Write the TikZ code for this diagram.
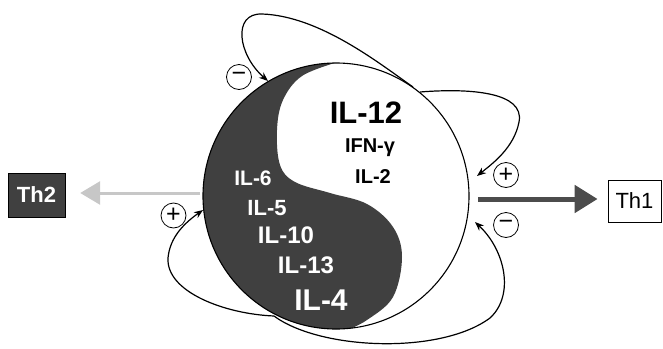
\documentclass[tikz,border=0pt]{standalone}
\usepackage{fontspec}
\setmainfont{Liberation Sans}
\usetikzlibrary{arrows.meta}
\definecolor{darkfill}{gray}{0.25}
\begin{document}
\begin{tikzpicture}[x=1pt,y=-1pt,
  lbl/.style={font=\fontsize{#1}{#1}\selectfont\bfseries, inner sep=0pt, anchor=base},
  wlbl/.style={lbl=#1, text=white},
  sign/.style={circle, draw, line width=0.8pt, minimum size=25pt, inner sep=0pt,
    font=\fontsize{25}{25}\selectfont},
  loopline/.style={line width=1.2pt, -{Stealth[length=9pt,width=7pt]}},
]
\useasboundingbox (0,0) rectangle (663,348);

% yin-yang disc
\begin{scope}
\clip (336,196) circle[radius=133];
\fill[darkfill] plot[smooth,tension=0.6] coordinates {(338,62) (302,76) (283,100) (277,130) (280,165) (295,182) (330,193) (367,204) (393,227) (402,257) (393,297) (367,320) (345,331)} -- (345,400) -- (150,400) -- (150,0) -- (338,0) -- cycle;
\end{scope}
\draw[line width=1.1pt] (336,196) circle[radius=133];

% labels in the white part
\node[lbl=31] (il12) at (366,123) {IL-12};
\node[lbl=20] (ifng) at (370,152) {IFN-γ};
\node[lbl=20] (il2) at (373,183) {IL-2};

% labels in the dark part
\node[wlbl=21] (il6) at (253,185) {IL-6};
\node[wlbl=22] (il5) at (267,215) {IL-5};
\node[wlbl=24] (il10) at (286,243) {IL-10};
\node[wlbl=24] (il13) at (306,273) {IL-13};
\node[wlbl=30] (il4) at (321,310) {IL-4};

% Th boxes
\node[draw=black, fill=darkfill, minimum width=57pt, minimum height=44pt, inner sep=0pt,
  text=white, font=\fontsize{22}{22}\selectfont\bfseries] (th2) at (36.5,195) {Th2};
\node[draw=black, line width=0.8pt, minimum width=53pt, minimum height=42pt, inner sep=0pt,
  font=\fontsize{22}{22}\selectfont] (th1) at (634.5,201) {Th1};

% Th arrows
\coordinate (th1start) at (478,199);
\coordinate (th2start) at (200,193);
\draw[line width=5pt, black!70, shorten >=10pt, -{Triangle[length=23pt,width=27pt]}] (th1start) -- (th1start -| th1.west);
\draw[line width=3pt, black!22, shorten >=15pt, -{Triangle[length=20pt,width=23pt]}] (th2start) -- (th2start -| th2.east);

% signs
\node[sign] (m1) at (239,77) {−};
\node[sign] (p1) at (506,175) {+};
\node[sign] (m2) at (506,225) {−};
\node[sign] (p2) at (173.5,215.5) {+};

% feedback loops
\coordinate (s1) at (413,87);
\coordinate (s1b) at (420,92);
\coordinate (s2) at (274,316);
\coordinate (t1) at (268,81);
\coordinate (t2) at (477,176);
\coordinate (t3) at (203,210);
\coordinate (t4) at (475,222);
\draw[loopline] (s1) .. controls (380,64) and (320,16) .. (262,14) .. controls (232,13) and (238,55) .. (t1);
\draw[loopline] (s1b) .. controls (470,88) and (525,92) .. (519,122) .. controls (514,148) and (492,164) .. (t2);
\draw[loopline] (s2) .. controls (225,314) and (166,292) .. (168,258) .. controls (170,236) and (186,222) .. (t3);
\draw[loopline] (s2) .. controls (320,350) and (440,355) .. (490,318) .. controls (515,295) and (505,250) .. (t4);
\end{tikzpicture}
\end{document}
